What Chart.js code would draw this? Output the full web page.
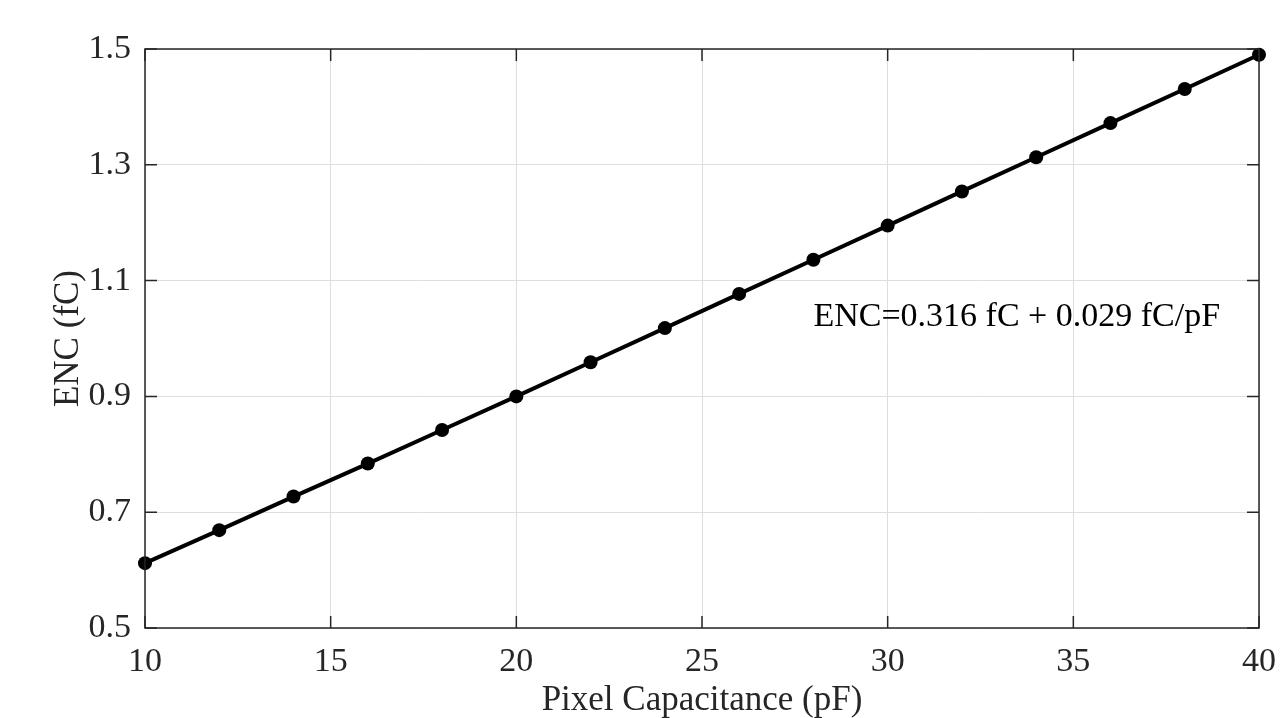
<!DOCTYPE html>
<html>
<head>
<meta charset="utf-8">
<script src="https://cdn.jsdelivr.net/npm/chart.js@4.4.1/dist/chart.umd.min.js"></script>
<style>
  html, body { margin: 0; padding: 0; background: #fff; }
  #wrap { width: 1285px; height: 718px; }
</style>
</head>
<body>
<div id="wrap"><canvas id="myChart" width="1285" height="718"></canvas></div>
<script>
// pixel capacitance (pF) and measured ENC (fC)
const capacitance = [10, 12, 14, 16, 18, 20, 22, 24, 26, 28, 30, 32, 34, 36, 38, 40];
const encValues = [0.612, 0.669, 0.727, 0.784, 0.842, 0.900, 0.959, 1.018, 1.077, 1.136, 1.195, 1.254, 1.313, 1.372, 1.431, 1.490];
const xTicks = [10, 15, 20, 25, 30, 35, 40];
const yTicks = [0.5, 0.7, 0.9, 1.1, 1.3, 1.5];
const fitLabel = 'ENC=0.316 fC + 0.029 fC/pF';
const fitLabelPos = { x: 28.0, y: 1.037 };

const FONT = '"Liberation Serif", "Times New Roman", serif';
const FSIZE = 34;
const TSIZE = 35;
const AXIS = '#262626';

// box round the plot, inward ticks on all four sides, and the fit text
Chart.register({
  id: 'matlabBox',
  afterDraw(chart) {
    const { ctx, chartArea: a, scales: { x, y } } = chart;
    ctx.save();
    ctx.strokeStyle = AXIS;
    ctx.lineWidth = 1.5;
    ctx.strokeRect(a.left, a.top, a.right - a.left, a.bottom - a.top);
    const tl = 12;
    ctx.beginPath();
    xTicks.forEach(v => {
      const px = x.getPixelForValue(v);
      ctx.moveTo(px, a.bottom); ctx.lineTo(px, a.bottom - tl);
      ctx.moveTo(px, a.top); ctx.lineTo(px, a.top + tl);
    });
    yTicks.forEach(v => {
      const py = y.getPixelForValue(v);
      ctx.moveTo(a.left, py); ctx.lineTo(a.left + tl, py);
      ctx.moveTo(a.right, py); ctx.lineTo(a.right - tl, py);
    });
    ctx.stroke();

    ctx.fillStyle = '#000';
    ctx.font = `${FSIZE}px ${FONT}`;
    ctx.textAlign = 'left';
    ctx.textBaseline = 'middle';
    ctx.fillText(fitLabel, x.getPixelForValue(fitLabelPos.x), y.getPixelForValue(fitLabelPos.y));
    ctx.restore();
  }
});

const ctx = document.getElementById('myChart').getContext('2d');
new Chart(ctx, {
  type: 'line',
  data: {
    datasets: [{
      data: capacitance.map((c, i) => ({ x: c, y: encValues[i] })),
      borderColor: '#000',
      backgroundColor: '#000',
      borderWidth: 4,
      pointRadius: 7,
      pointBackgroundColor: '#000',
      pointBorderColor: '#000',
      pointBorderWidth: 0,
      tension: 0,
      fill: false,
      clip: false
    }]
  },
  options: {
    responsive: false,
    animation: false,
    layout: { padding: { top: 49, right: 26, left: 0, bottom: 0 } },
    plugins: { legend: { display: false }, tooltip: { enabled: false } },
    scales: {
      x: {
        type: 'linear',
        min: 10,
        max: 40,
        afterFit: s => { s.height = 90; s.paddingRight = 0; s.paddingLeft = 0; },
        afterBuildTicks: s => { s.ticks = xTicks.map(v => ({ value: v })); },
        grid: { color: '#dedede', lineWidth: 1, drawTicks: false },
        border: { display: false },
        ticks: {
          padding: 14,
          color: AXIS,
          font: { family: FONT, size: FSIZE },
          maxRotation: 0,
          callback: v => String(v)
        },
        title: {
          display: true,
          text: 'Pixel Capacitance (pF)',
          color: AXIS,
          font: { family: FONT, size: TSIZE },
          padding: { top: 0, bottom: -4 }
        }
      },
      y: {
        type: 'linear',
        min: 0.5,
        max: 1.5,
        afterFit: s => { s.width = 145; s.paddingTop = 0; s.paddingBottom = 0; },
        afterBuildTicks: s => { s.ticks = yTicks.map(v => ({ value: v })); },
        grid: { color: '#dedede', lineWidth: 1, drawTicks: false },
        border: { display: false },
        ticks: {
          padding: 14,
          color: AXIS,
          font: { family: FONT, size: FSIZE },
          callback: v => v.toFixed(1)
        },
        title: {
          display: true,
          text: 'ENC (fC)',
          color: AXIS,
          font: { family: FONT, size: TSIZE },
          padding: { top: 48, bottom: 0 }
        }
      }
    }
  }
});
</script>
</body>
</html>
